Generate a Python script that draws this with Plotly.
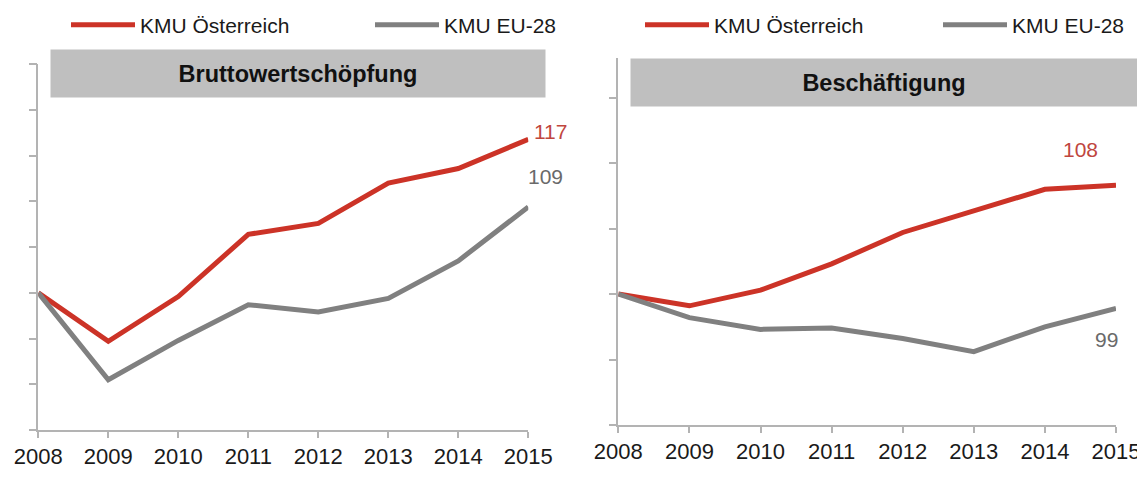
import plotly.graph_objects as go

# The page body has an 8px margin, so the figure is made 8px smaller and
# all layout positions below are given in page pixels, converted by px/py.
OFF = 8
W, H = 1145 - OFF, 488 - OFF

years = [2008, 2009, 2010, 2011, 2012, 2013, 2014, 2015]
year_labels = ["2008", "2009", "2010", "2011", "2012", "2013", "2014", "2015"]

# Bruttowertschöpfung (index 2008 = 100)
bws_at = [100, 94.7, 99.6, 106.4, 107.6, 112.0, 113.6, 116.8]
bws_eu = [100, 90.5, 94.8, 98.7, 97.9, 99.4, 103.5, 109.4]

# Beschäftigung (index 2008 = 100)
bes_at = [100, 99.1, 100.3, 102.3, 104.7, 106.4, 108.0, 108.3]
bes_eu = [100, 98.2, 97.3, 97.4, 96.6, 95.6, 97.5, 98.9]

series_names = ["KMU Österreich", "KMU EU-28"]
panel_titles = ["Bruttowertschöpfung", "Beschäftigung"]

RED = "#cc3327"
GRAY = "#808080"
RED_LBL = "#c0463e"
GRAY_LBL = "#6a6a6a"
BOX = "#bfbfbf"
AXC = "#b3b3b3"
FONT = "Liberation Sans, Arial, sans-serif"

def px(x):
    return (x - OFF) / W

def py(y):
    return 1 - (y - OFF) / H

fig = go.Figure()

fig.add_trace(go.Scatter(x=years, y=bws_at, mode="lines", name=series_names[0],
                         line=dict(color=RED, width=5), xaxis="x", yaxis="y", legend="legend"))
fig.add_trace(go.Scatter(x=years, y=bws_eu, mode="lines", name=series_names[1],
                         line=dict(color=GRAY, width=5), xaxis="x", yaxis="y", legend="legend2"))
fig.add_trace(go.Scatter(x=years, y=bes_at, mode="lines", name=series_names[0],
                         line=dict(color=RED, width=5), xaxis="x2", yaxis="y2", legend="legend3"))
fig.add_trace(go.Scatter(x=years, y=bes_eu, mode="lines", name=series_names[1],
                         line=dict(color=GRAY, width=5), xaxis="x2", yaxis="y2", legend="legend4"))

xcommon = dict(range=[2008, 2015], tickvals=years, ticktext=year_labels, showgrid=False,
               zeroline=False, showline=True, linecolor=AXC, linewidth=1.5,
               ticks="outside", ticklen=6, tickcolor=AXC, tickwidth=1.5,
               tickfont=dict(size=22, color="#1a1a1a", family=FONT), fixedrange=True)
ycommon = dict(showgrid=False, zeroline=False, showline=True, linecolor=AXC, linewidth=1.5,
               ticks="outside", ticklen=8, tickcolor=AXC, tickwidth=1.5,
               showticklabels=False, fixedrange=True)

leg_common = dict(orientation="h", xanchor="left", yanchor="middle", y=py(25),
                  font=dict(size=21, color="#1a1a1a", family=FONT),
                  bgcolor="rgba(0,0,0,0)", itemwidth=64, borderwidth=0)

annotations = []
# panel title boxes
annotations.append(dict(xref="paper", yref="paper", x=px(297.9), y=py(73.3), xanchor="center",
                        yanchor="middle", text="<b>" + panel_titles[0] + "</b>", showarrow=False,
                        bgcolor=BOX, width=492, height=45, borderpad=1,
                        font=dict(size=23.5, color="#111111", family=FONT)))
annotations.append(dict(xref="paper", yref="paper", x=px(884), y=py(82.7), xanchor="center",
                        yanchor="middle", text="<b>" + panel_titles[1] + "</b>", showarrow=False,
                        bgcolor=BOX, width=504, height=45, borderpad=1,
                        font=dict(size=23.5, color="#111111", family=FONT)))
# end value labels
annotations.append(dict(xref="x", yref="y", x=years[-1], y=bws_at[-1], text=f"{round(bws_at[-1])}",
                        showarrow=False, xshift=22, yshift=8,
                        font=dict(size=21, color=RED_LBL, family=FONT)))
annotations.append(dict(xref="x", yref="y", x=years[-1], y=bws_eu[-1], text=f"{round(bws_eu[-1])}",
                        showarrow=False, xshift=17, yshift=30,
                        font=dict(size=21, color=GRAY_LBL, family=FONT)))
annotations.append(dict(xref="x2", yref="y2", x=years[-1], y=bes_at[-1], text=f"{round(bes_at[-1])}",
                        showarrow=False, xshift=-36, yshift=36,
                        font=dict(size=21, color=RED_LBL, family=FONT)))
annotations.append(dict(xref="x2", yref="y2", x=years[-1], y=bes_eu[-1], text=f"{round(bes_eu[-1])}",
                        showarrow=False, xshift=-10, yshift=-31,
                        font=dict(size=21, color=GRAY_LBL, family=FONT)))

fig.update_layout(
    width=W, height=H,
    margin=dict(l=0, r=0, t=0, b=0, autoexpand=False),
    paper_bgcolor="white", plot_bgcolor="white",
    showlegend=True,
    xaxis=dict(domain=[px(38.3), px(528.3)], anchor="y", **xcommon),
    yaxis=dict(domain=[py(430), py(64.3)], anchor="x", range=[85, 125], dtick=5, tick0=85, **ycommon),
    xaxis2=dict(domain=[px(618.3), px(1116)], anchor="y2", **xcommon),
    yaxis2=dict(domain=[py(425), py(58.3)], anchor="x2", range=[90, 118], tickvals=[90, 95, 100, 105, 110, 115], **ycommon),
    legend=dict(x=px(66), **leg_common),
    legend2=dict(x=px(370), **leg_common),
    legend3=dict(x=px(640), **leg_common),
    legend4=dict(x=px(938), **leg_common),
    annotations=annotations,
    font=dict(family=FONT),
)

fig.write_html("out.html")
